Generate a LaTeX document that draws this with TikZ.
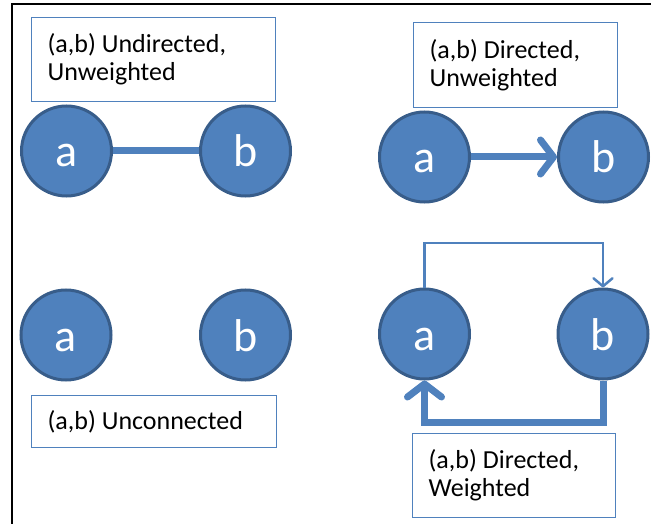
\documentclass[tikz,border=0pt]{standalone}
\usepackage{fontspec}
\setmainfont{Carlito}
\usetikzlibrary{arrows.meta}
\definecolor{nodeblue}{HTML}{4F81BD}
\definecolor{nodeedge}{HTML}{385D8A}
\newcommand{\natsp}{\spaceskip=0pt\relax\xspaceskip=0pt\relax}
\begin{document}
\begin{tikzpicture}[x=1pt,y=-1pt,
  vert/.style={circle, fill=nodeblue, draw=nodeedge, line width=3pt, minimum size=90pt, inner sep=0pt, text=white, text height=32pt, text depth=0pt, font=\fontsize{46}{46}\selectfont},
  lbl/.style={draw=nodeblue, line width=1.2pt, anchor=north west, inner xsep=16pt, inner ysep=0pt, align=left, font=\fontsize{26}{28}\selectfont, text=black},
  edge/.style={draw=nodeblue, line width=7pt},
  thinedge/.style={draw=nodeblue, line width=2.5pt},
  bigtip/.style={-{Straight Barb[length=13pt,width=34pt,round]}},
  smalltip/.style={-{Straight Barb[length=8pt,width=19pt,round]}}
]
\useasboundingbox (0,0) rectangle (651,524);
\draw[line width=2pt] (12,524) -- (12,4) -- (651,4);

% top-left
\node[lbl, minimum width=244pt, minimum height=84pt, text width=212pt] (l1) at (31,17) {\natsp(a,b) Undirected,\\\natsp Unweighted};
\node[vert] (a1) at (66.5,151) {a};
\node[vert] (b1) at (245.5,151) {b};
\draw[edge] (a1) -- (b1);

% top-right
\node[lbl, minimum width=204pt, minimum height=85pt, text width=172pt] (l2) at (413,22) {\natsp(a,b) Directed,\\\natsp Unweighted};
\node[vert] (a2) at (424.5,157) {a};
\node[vert] (b2) at (603.5,157) {b};
\draw[edge, bigtip] (a2) -- (b2);

% bottom-left
\node[vert] (a3) at (66,335) {a};
\node[vert] (b3) at (245.5,335) {b};
\node[lbl, minimum width=245pt, minimum height=52pt, text width=213pt] (l3) at (31,395) {\natsp(a,b) Unconnected};

% bottom-right
\node[vert] (a4) at (424.5,334) {a};
\node[vert] (b4) at (603,334) {b};
\coordinate (t1) at (0,243);
\coordinate (t2) at (0,422);
\draw[thinedge, smalltip] (a4.north) -- (a4.north |- t1) -| (b4.north);
\draw[edge, bigtip] (b4.south) -- (b4.south |- t2) -| (a4.south);
\node[lbl, minimum width=203pt, minimum height=84pt, text width=171pt] (l4) at (412,433) {\natsp(a,b) Directed,\\\natsp Weighted};
\end{tikzpicture}
\end{document}
